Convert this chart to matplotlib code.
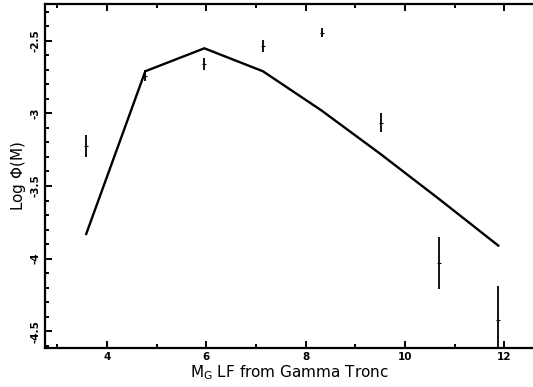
import matplotlib
matplotlib.use("Agg")
import matplotlib.pyplot as plt
from matplotlib.ticker import MultipleLocator

# magnitude bins
mag = [3.58, 4.77, 5.96, 7.14, 8.32, 9.51, 10.69, 11.88]
# observed log phi with errors
obs_logphi = [-3.225, -2.74, -2.662, -2.535, -2.444, -3.063, -4.03, -4.42]
obs_err = [0.075, 0.04, 0.04, 0.04, 0.03, 0.063, 0.18, 0.23]
# model curve
model_logphi = [-3.83, -2.71, -2.552, -2.71, -2.98, -3.28, -3.59, -3.91]

fig = plt.figure(figsize=(5.33, 3.87), dpi=100)
ax = fig.add_axes([45 / 533, 1 - 348 / 387, 1 - 45 / 533, 344 / 387])

ax.plot(mag, model_logphi, color="black", lw=1.7, solid_joinstyle="miter")
ax.errorbar(mag, obs_logphi, yerr=obs_err, fmt="_", color="black",
            ms=3, mew=0.8, elinewidth=1.3, capsize=0)

ax.set_xlim(2.75, 12.58)
ax.set_ylim(-4.615, -2.247)

ax.xaxis.set_major_locator(MultipleLocator(2))
ax.xaxis.set_minor_locator(MultipleLocator(1))
ax.yaxis.set_major_locator(MultipleLocator(0.5))
ax.yaxis.set_minor_locator(MultipleLocator(0.1))

ax.tick_params(which="both", direction="in", top=True, right=False, width=1.4)
ax.tick_params(which="major", length=5, labelsize=7.5, pad=3)
ax.tick_params(which="minor", length=3)

ax.xaxis.set_major_formatter(plt.FuncFormatter(lambda v, p: f"{v:g}"))
ax.yaxis.set_major_formatter(plt.FuncFormatter(lambda v, p: f"-{abs(v):g}"))

for lab in ax.get_xticklabels() + ax.get_yticklabels():
    lab.set_fontweight("bold")
for lab in ax.get_yticklabels():
    lab.set_rotation(90)
    lab.set_va("center")

for s in ["left", "bottom", "top"]:
    ax.spines[s].set_linewidth(1.6)
ax.spines["right"].set_visible(False)

ax.set_xlabel(r"M$_{\mathrm{G}}$ LF from Gamma Tronc", fontsize=11, labelpad=1)
ax.set_ylabel(r"Log $\Phi$(M)", fontsize=11, labelpad=2)

fig.savefig("out.png", dpi=100)
